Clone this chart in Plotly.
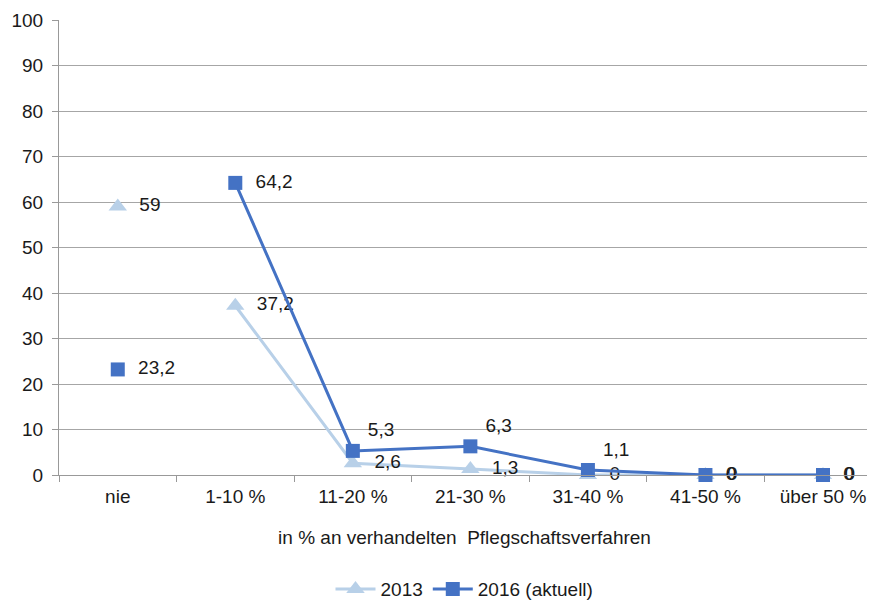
import plotly.graph_objects as go

categories = ["nie", "1-10 %", "11-20 %", "21-30 %", "31-40 %", "41-50 %", "über 50 %"]
values_2013 = [59, 37.2, 2.6, 1.3, 0, 0, 0]
values_2016 = [23.2, 64.2, 5.3, 6.3, 1.1, 0, 0]
series_names = ["2013", "2016 (aktuell)"]
y_ticks = [0, 10, 20, 30, 40, 50, 60, 70, 80, 90, 100]

pos_2013 = ["middle right"] * 7
pos_2016 = ["middle right", "middle right", "top right", "top right", "top right", "middle right", "middle right"]

c2013 = "#B8D0E8"
c2016 = "#4472C4"
font = "Liberation Sans, Arial, sans-serif"
fs = 19


def lab(v, p):
    s = ("%g" % v).replace(".", ",")
    return "  " + s if p == "middle right" else " " + s


fig = go.Figure()

def add_series(vals, name, color, symbol, positions, msize):
    # isolated first point (no connecting line)
    fig.add_trace(go.Scatter(
        x=categories[:1], y=vals[:1], mode="markers+text",
        marker=dict(symbol=symbol, size=msize, color=color),
        text=[lab(v, p) for v, p in zip(vals[:1], positions[:1])], textposition=positions[:1],
        textfont=dict(size=fs, color="#1a1a1a", family=font),
        showlegend=False, cliponaxis=False, hoverinfo="skip"))
    fig.add_trace(go.Scatter(
        x=categories[1:], y=vals[1:], mode="lines+markers+text", name=name,
        line=dict(color=color, width=3),
        marker=dict(symbol=symbol, size=msize, color=color),
        text=[lab(v, p) for v, p in zip(vals[1:], positions[1:])],
        textposition=positions[1:],
        textfont=dict(size=fs, color="#1a1a1a", family=font),
        cliponaxis=False))

add_series(values_2013, series_names[0], c2013, "triangle-up", pos_2013, 16)
add_series(values_2016, series_names[1], c2016, "square", pos_2016, 14)

fig.update_layout(
    width=867, height=593,
    margin=dict(l=51, r=5, t=12, b=126, autoexpand=False),
    paper_bgcolor="white", plot_bgcolor="white",
    font=dict(family=font, size=fs, color="#1a1a1a"),
    legend=dict(orientation="h", x=0.5, xanchor="center", yref="container", y=0.02, yanchor="middle",
                font=dict(size=fs), itemwidth=40),
    xaxis=dict(
        type="category", categoryorder="array", categoryarray=categories,
        range=[-0.5, 6.4], showgrid=False, automargin=False,
        showline=True, linecolor="#999999", linewidth=1,
        ticks="outside", tickson="boundaries", ticklen=6, tickcolor="#999999",
        tickfont=dict(size=fs), ticklabelstandoff=4,
        title=dict(text="in % an verhandelten  Pflegschaftsverfahren", font=dict(size=fs), standoff=24),
    ),
    yaxis=dict(
        range=[0, 100], tickvals=y_ticks, showgrid=True, gridcolor="#A6A6A6", gridwidth=1,
        showline=True, linecolor="#999999", linewidth=1, automargin=False,
        ticks="outside", ticklen=6, tickcolor="#999999", ticklabelstandoff=5,
        tickfont=dict(size=fs), zeroline=False,
    ),
)

fig.write_html("out.html")
